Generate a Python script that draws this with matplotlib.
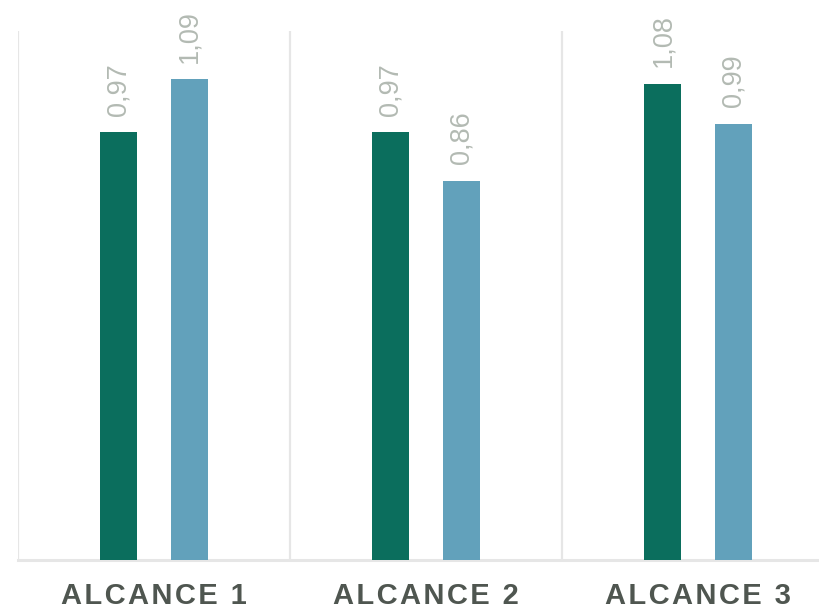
import numpy as np
import matplotlib
matplotlib.use("Agg")
from matplotlib import pyplot as plt

# ----------------------------------- DATA ----------------------------------- #

categories = ["ALCANCE 1", "ALCANCE 2", "ALCANCE 3"]
serie_a = [0.97, 0.97, 1.08]
serie_b = [1.09, 0.86, 0.99]

# ---------------------------------- STYLE ----------------------------------- #

DARK = "#0B6E5D"
LIGHT = "#62A1BB"
VALUE_COLOR = "#B3BAB3"
CAT_COLOR = "#4F5650"
GRID = "#E6E6E6"


def spaced(text: str) -> str:
    # matplotlib has no letter spacing, so pad with hair spaces
    return "\u200a".join(text)


def main():
    plt.rcParams["font.family"] = ["Liberation Sans", "DejaVu Sans"]
    fig = plt.figure(figsize=(8.2, 6.09), dpi=100)
    ax = fig.add_axes([18 / 820, 49 / 609, 816 / 820, 529 / 609])

    x = np.arange(len(categories))
    width = 0.136
    offset = 0.129

    bars_a = ax.bar(x - offset, serie_a, width, color=DARK, zorder=3)
    bars_b = ax.bar(x + offset, serie_b, width, color=LIGHT, zorder=3)

    for bars in (bars_a, bars_b):
        for bar in bars:
            h = bar.get_height()
            ax.annotate(
                f"{h:.2f}".replace(".", ","),
                (bar.get_x() + bar.get_width() / 2, h),
                xytext=(0, 12),
                textcoords="offset points",
                rotation=90,
                ha="center",
                va="bottom",
                fontsize=19.5,
                color=VALUE_COLOR,
            )

    ax.set_xlim(-0.5, len(categories) - 0.5)
    ax.set_ylim(0, 1.2)

    for sep in np.arange(-0.5, len(categories), 1.0):
        ax.axvline(sep, color=GRID, lw=1.6, zorder=1)

    for side in ("top", "right", "left"):
        ax.spines[side].set_visible(False)
    ax.spines["bottom"].set_color(GRID)
    ax.spines["bottom"].set_linewidth(2.2)

    ax.set_yticks([])
    ax.set_xticks(x)
    ax.set_xticklabels([spaced(c) for c in categories], fontsize=21,
                       fontweight="bold", color=CAT_COLOR)
    ax.tick_params(axis="x", length=0, pad=16)

    fig.savefig("out.png", dpi=100)


if __name__ == "__main__":
    main()
